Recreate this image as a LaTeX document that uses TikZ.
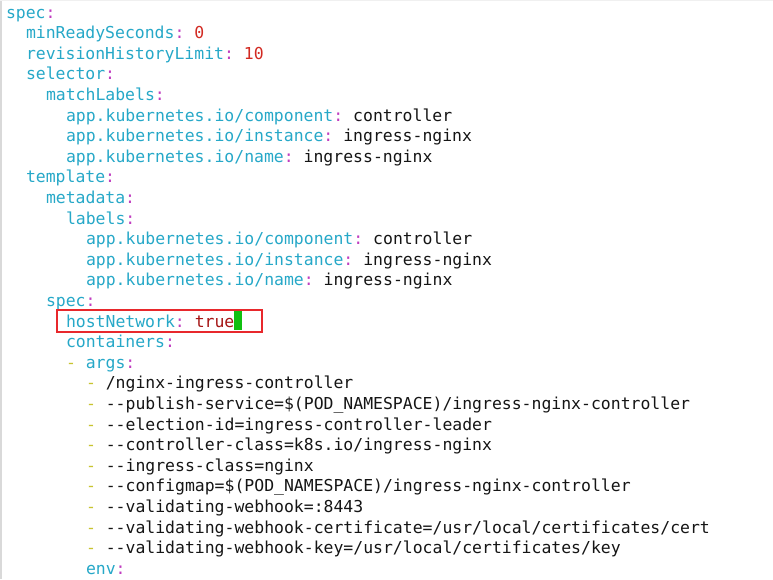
\documentclass[tikz,border=0pt]{standalone}
\usepackage{fontspec}
\setmonofont{DejaVu Sans Mono}
\definecolor{keyc}{HTML}{26A8C8}
\definecolor{colc}{HTML}{C03CC0}
\definecolor{numc}{HTML}{D22A22}
\definecolor{truec}{HTML}{A51515}
\definecolor{dashc}{HTML}{C8C430}
\definecolor{valc}{HTML}{151515}
\definecolor{boxc}{HTML}{E8282C}
\definecolor{curc}{HTML}{10C010}
\newcommand{\Ky}[1]{\textcolor{keyc}{#1}\textcolor{colc}{:}}
\newcommand{\Dsh}{\textcolor{dashc}{-}}
\tikzset{
  ln/.style={anchor=base west, inner sep=0pt, outer sep=0pt, text=valc,
    font=\ttfamily\fontsize{16.45}{20.6}\selectfont},
}
\begin{document}
\begin{tikzpicture}[x=1pt,y=-1pt]
\fill[white] (0,0) rectangle (773,579);
\useasboundingbox (0,0) rectangle (773,579);
\draw[draw=black!15, line width=1.5pt] (0.8,0) -- (0.8,579);
\draw[draw=black!6, line width=1pt] (0,0.5) -- (773,0.5);
\def\bl#1{18+20.6*(#1-1)}
\node[ln] (l1)  at (6,{\bl{1}})  {\Ky{spec}};
\node[ln] (l2)  at (26,{\bl{2}}) {\Ky{minReadySeconds} \textcolor{numc}{0}};
\node[ln] (l3)  at (26,{\bl{3}}) {\Ky{revisionHistoryLimit} \textcolor{numc}{10}};
\node[ln] (l4)  at (26,{\bl{4}}) {\Ky{selector}};
\node[ln] (l5)  at (46,{\bl{5}}) {\Ky{matchLabels}};
\node[ln] (l6)  at (66,{\bl{6}}) {\Ky{app.kubernetes.io/component} controller};
\node[ln] (l7)  at (66,{\bl{7}}) {\Ky{app.kubernetes.io/instance} ingress-nginx};
\node[ln] (l8)  at (66,{\bl{8}}) {\Ky{app.kubernetes.io/name} ingress-nginx};
\node[ln] (l9)  at (26,{\bl{9}}) {\Ky{template}};
\node[ln] (l10) at (46,{\bl{10}}) {\Ky{metadata}};
\node[ln] (l11) at (66,{\bl{11}}) {\Ky{labels}};
\node[ln] (l12) at (86,{\bl{12}}) {\Ky{app.kubernetes.io/component} controller};
\node[ln] (l13) at (86,{\bl{13}}) {\Ky{app.kubernetes.io/instance} ingress-nginx};
\node[ln] (l14) at (86,{\bl{14}}) {\Ky{app.kubernetes.io/name} ingress-nginx};
\node[ln] (l15) at (46,{\bl{15}}) {\Ky{spec}};
\node[ln] (l16) at (66,{\bl{16}}) {\Ky{hostNetwork} \textcolor{truec}{true}};
\node[ln] (l17) at (66,{\bl{17}}) {\Ky{containers}};
\node[ln] (l18) at (66,{\bl{18}}) {\Dsh{} \Ky{args}};
\node[ln] (l19) at (86,{\bl{19}}) {\Dsh{} /nginx-ingress-controller};
\node[ln] (l20) at (86,{\bl{20}}) {\Dsh{} --publish-service=\$(POD\_NAMESPACE)/ingress-nginx-controller};
\node[ln] (l21) at (86,{\bl{21}}) {\Dsh{} --election-id=ingress-controller-leader};
\node[ln] (l22) at (86,{\bl{22}}) {\Dsh{} --controller-class=k8s.io/ingress-nginx};
\node[ln] (l23) at (86,{\bl{23}}) {\Dsh{} --ingress-class=nginx};
\node[ln] (l24) at (86,{\bl{24}}) {\Dsh{} --configmap=\$(POD\_NAMESPACE)/ingress-nginx-controller};
\node[ln] (l25) at (86,{\bl{25}}) {\Dsh{} --validating-webhook=:8443};
\node[ln] (l26) at (86,{\bl{26}}) {\Dsh{} --validating-webhook-certificate=/usr/local/certificates/cert};
\node[ln] (l27) at (86,{\bl{27}}) {\Dsh{} --validating-webhook-key=/usr/local/certificates/key};
\node[ln] (l28) at (86,{\bl{28}}) {\Ky{env}};
% cursor
\fill[curc] (234,311) rectangle (242,330);
% highlight box
\draw[boxc, line width=2.4pt] (57,310) rectangle (262,332);
\end{tikzpicture}
\end{document}
